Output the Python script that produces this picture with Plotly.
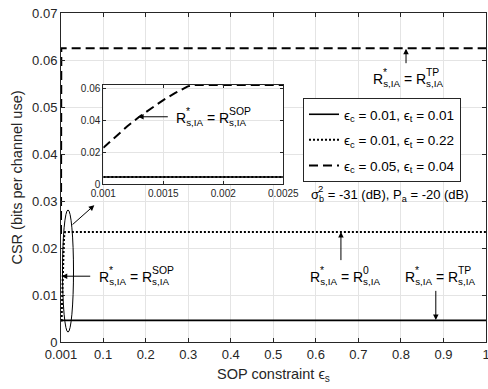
import plotly.graph_objects as go

# ---------------- data ----------------
eps_solid = [0.001, 1.0]
csr_solid = [0.0046, 0.0046]

eps_dot = [0.001, 0.0025, 0.003, 0.004, 0.005, 0.006, 0.007, 0.008, 0.009, 0.0105, 1.0]
csr_dot = [0.0046, 0.0046, 0.0070, 0.0110, 0.0145, 0.0175, 0.0200, 0.0220, 0.0230, 0.0234, 0.0234]

eps_dash = [0.001, 0.0011, 0.0012, 0.0013, 0.0014, 0.0015, 0.0016, 0.0017, 0.00174, 1.0]
csr_dash = [0.0230, 0.0300, 0.0365, 0.0425, 0.0480, 0.0530, 0.0575, 0.0615, 0.0625, 0.0625]

legend_names = ["ϵ<sub>c</sub> = 0.01, ϵ<sub>t</sub> = 0.01",
                "ϵ<sub>c</sub> = 0.01, ϵ<sub>t</sub> = 0.22",
                "ϵ<sub>c</sub> = 0.05, ϵ<sub>t</sub> = 0.04"]

x_ticks = [0.001, 0.1, 0.2, 0.3, 0.4, 0.5, 0.6, 0.7, 0.8, 0.9, 1.0]
x_tick_text = ["0.001", "0.1", "0.2", "0.3", "0.4", "0.5", "0.6", "0.7", "0.8", "0.9", "1"]
y_ticks = [0, 0.01, 0.02, 0.03, 0.04, 0.05, 0.06, 0.07]
y_tick_text = ["0", "0.01", "0.02", "0.03", "0.04", "0.05", "0.06", "0.07"]
in_x_ticks = [0.001, 0.0015, 0.002, 0.0025]
in_x_text = ["0.001", "0.0015", "0.002", "0.0025"]
in_y_ticks = [0, 0.02, 0.04, 0.06]
in_y_text = ["0", "0.02", "0.04", "0.06"]

# ---------------- layout helpers ----------------
W, H = 488, 389
ML, MR, MT, MB = 61, 2, 13, 47
PW, PH = W - ML - MR, H - MT - MB
FONT = "Liberation Sans, Arial, sans-serif"
AX = "#262626"
GRID = "#e4e4e4"


def px(x):
    return (x - ML) / PW


def py(y):
    return (H - MB - y) / PH


AW = {"R": 0.722, "s": 0.5, ",": 0.278, "I": 0.278, "A": 0.667, " ": 0.278,
      "=": 0.584, "σ": 0.57, "b": 0.556}


def tw(s, size):
    return sum(AW.get(c, 0.556) for c in s) * size


fig = go.Figure()

styles = [dict(color="black", width=1.6),
          dict(color="black", width=2, dash="2px,2px"),
          dict(color="black", width=2, dash="9px,5px")]
series = [(eps_solid, csr_solid), (eps_dot, csr_dot), (eps_dash, csr_dash)]

for i, ((xs, ys), st, nm) in enumerate(zip(series, styles, legend_names)):
    fig.add_trace(go.Scatter(x=xs, y=ys, mode="lines", line=st, name=nm,
                             legendgroup="g%d" % i, xaxis="x", yaxis="y"))
for (xs, ys), st in zip(series, styles):
    fig.add_trace(go.Scatter(x=xs, y=ys, mode="lines", line=st, showlegend=False,
                             xaxis="x2", yaxis="y2"))

anns = []
SZ = 14
SUP = 0.74


def rlabel(xl, yc, sup):
    """R*_{s,IA} = R^{sup}_{s,IA} with stacked super/subscripts"""
    yp = py(yc)
    xp = px(xl)
    anns.append(dict(xref="paper", yref="paper", x=xp, y=yp, xanchor="left",
                     yanchor="middle", showarrow=False,
                     text="R<sub>s,IA</sub> = R<sub>s,IA</sub>",
                     font=dict(family=FONT, size=SZ, color="black")))
    s1 = tw("R", SZ)
    s2 = tw("R", SZ) + tw("s,IA", SZ * 0.7) + tw(" = ", SZ) + tw("R", SZ)
    for txt, sh in (("*", s1), (sup, s2)):
        anns.append(dict(xref="paper", yref="paper", x=xp, y=yp, xanchor="left",
                         yanchor="middle", showarrow=False, text=txt,
                         xshift=sh, yshift=7.5,
                         font=dict(family=FONT, size=SZ * SUP, color="black")))


def arrow(x, y, ax, ay, xr="x", yr="y"):
    anns.append(dict(xref=xr, yref=yr, axref=xr, ayref=yr, x=x, y=y, ax=ax, ay=ay,
                     text="", showarrow=True, arrowhead=2, arrowsize=1.1,
                     arrowwidth=1, arrowcolor="black"))


# labels
rlabel(174, 119, "SOP")    # inset
rlabel(371, 80, "TP")      # top right
rlabel(308, 278, "0")      # R^0
rlabel(403, 278, "TP")     # lower right TP
rlabel(97, 278, "SOP")     # lower left

# arrows
arrow(0.00129, 0.0425, 0.00155, 0.0425, "x2", "y2")
arrow(0.812, 0.0624, 0.812, 0.059)
arrow(0.659, 0.0234, 0.659, 0.0171)
arrow(0.882, 0.0047, 0.882, 0.0112)
arrow(0.0028, 0.014, 0.0732, 0.014)
arrow(0.0793, 0.0291, 0.0245, 0.0247)

# sigma text
SG = 13
sx, sy = px(309), py(195)
anns.append(dict(xref="paper", yref="paper", x=sx, y=sy, xanchor="left",
                 yanchor="middle", showarrow=False,
                 text="σ<sub>b</sub> = -31 (dB), P<sub>a</sub> = -20 (dB)",
                 font=dict(family=FONT, size=SG, color="black")))
anns.append(dict(xref="paper", yref="paper", x=sx, y=sy, xanchor="left",
                 yanchor="middle", showarrow=False, text="2",
                 xshift=tw("σ", SG), yshift=7,
                 font=dict(family=FONT, size=SG * SUP, color="black")))

fig.update_layout(
    annotations=anns,
    shapes=[dict(type="circle", xref="x", yref="y", x0=0.0045, x1=0.0304,
                 y0=0.0021, y1=0.0281, line=dict(color="black", width=1))],
    width=W, height=H,
    margin=dict(l=ML, r=MR, t=MT, b=MB, pad=0, autoexpand=False),
    paper_bgcolor="white", plot_bgcolor="white",
    font=dict(family=FONT, size=13, color=AX),
    showlegend=True,
    legend=dict(x=px(303), y=py(98), xanchor="left", yanchor="top",
                bgcolor="white", bordercolor=AX, borderwidth=1,
                font=dict(family=FONT, size=13.5, color="black"),
                itemwidth=30, tracegroupgap=5),
    xaxis=dict(range=[0.001, 1], tickvals=x_ticks, ticktext=x_tick_text,
               automargin=False, ticklabeloverflow="allow",
               showgrid=True, gridcolor=GRID, gridwidth=1, zeroline=False,
               ticks="inside", ticklen=4, tickcolor=AX, showline=True,
               linecolor=AX, linewidth=1, mirror="ticks",
               tickfont=dict(size=13, color=AX),
               title=dict(text="SOP constraint ϵ<sub>s</sub>",
                          font=dict(size=14.5, color=AX), standoff=8)),
    yaxis=dict(range=[0, 0.07], tickvals=y_ticks, ticktext=y_tick_text,
               automargin=False,
               showgrid=True, gridcolor=GRID, gridwidth=1, zeroline=False,
               ticks="inside", ticklen=4, tickcolor=AX, showline=True,
               linecolor=AX, linewidth=1, mirror="ticks",
               tickfont=dict(size=13, color=AX),
               title=dict(text="CSR (bits per channel use)",
                          font=dict(size=14.5, color=AX), standoff=6)),
    xaxis2=dict(domain=[px(103.3), px(283.3)], anchor="y2", range=[0.001, 0.0025],
                tickvals=in_x_ticks, ticktext=in_x_text, automargin=False,
                ticklabeloverflow="allow",
                showgrid=True, gridcolor=GRID, zeroline=False,
                ticks="inside", ticklen=3, tickcolor=AX, showline=True,
                linecolor=AX, linewidth=1, mirror="ticks",
                tickfont=dict(size=10, color=AX)),
    yaxis2=dict(domain=[py(184.3), py(85)], anchor="x2", range=[0, 0.0625],
                tickvals=in_y_ticks, ticktext=in_y_text, automargin=False,
                showgrid=True, gridcolor=GRID, zeroline=False,
                ticks="inside", ticklen=3, tickcolor=AX, showline=True,
                linecolor=AX, linewidth=1, mirror="ticks",
                tickfont=dict(size=10, color=AX)),
)

fig.write_html("out.html")
